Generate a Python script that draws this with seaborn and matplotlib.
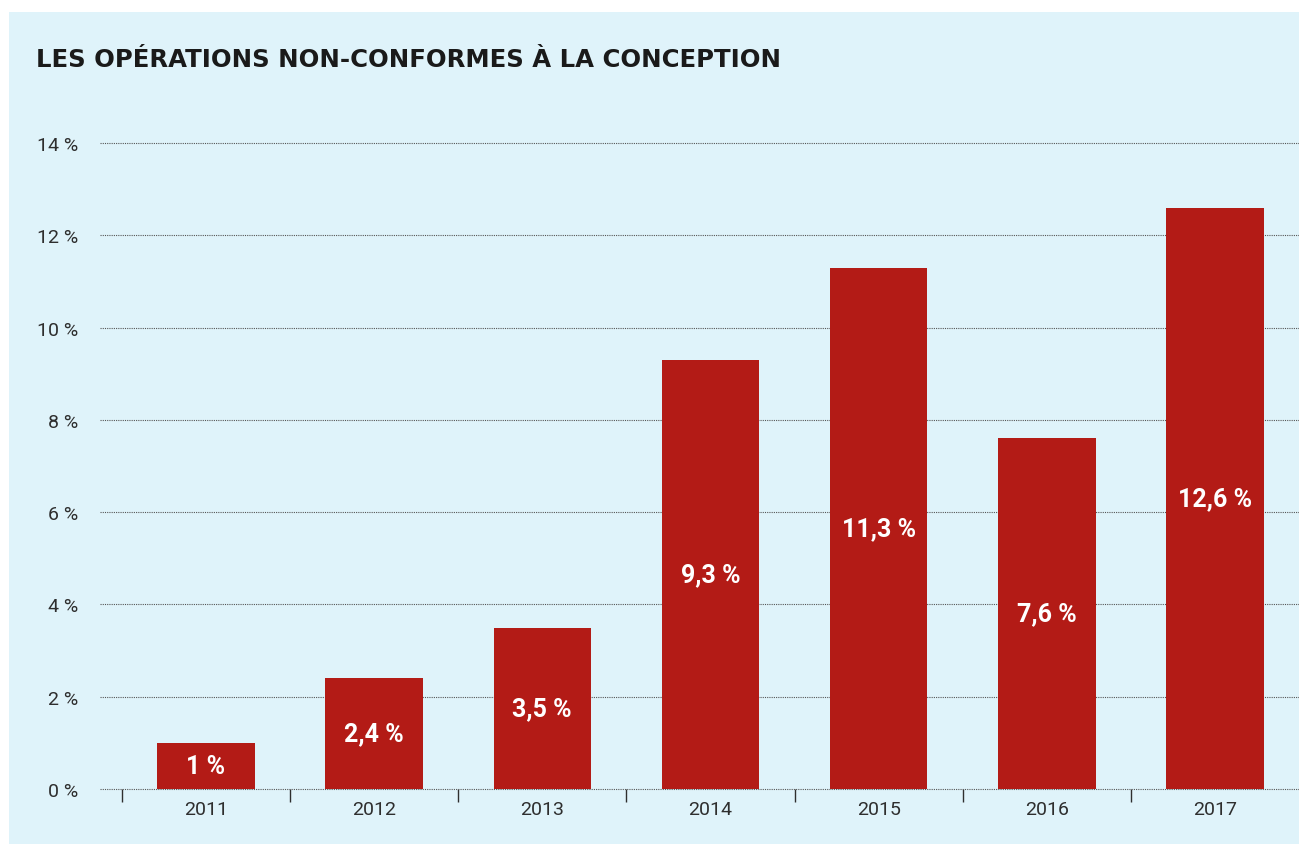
import matplotlib
matplotlib.use("Agg")
import matplotlib.pyplot as plt
import matplotlib.patches as mpatches
import seaborn as sns
import pandas as pd

# donnees
annees = ["2011", "2012", "2013", "2014", "2015", "2016", "2017"]
taux = [1.0, 2.4, 3.5, 9.3, 11.3, 7.6, 12.6]
etiquettes = ["1 %", "2,4 %", "3,5 %", "9,3 %", "11,3 %", "7,6 %", "12,6 %"]
graduations_y = [0, 2, 4, 6, 8, 10, 12, 14]

fond = "#dff3fa"
rouge = "#b31b16"
texte = "#2e2e2e"

sns.set_style("white")
plt.rcParams['font.family'] = ['Roboto', 'DejaVu Sans']

df = pd.DataFrame({"annee": annees, "taux": taux})

fig = plt.figure(figsize=(12.99, 8.45), dpi=100)
fig.patch.set_facecolor("white")
# panneau bleu clair derriere tout
fond_rect = mpatches.Rectangle((9 / 1299, 0), 1 - 9 / 1299, 1 - 13 / 845,
                               transform=fig.transFigure, facecolor=fond,
                               edgecolor="none", zorder=-10)
fig.add_artist(fond_rect)

ax = fig.add_axes([100 / 1299, 55 / 845, 1 - 100 / 1299, (790 - 144) / 845])
ax.set_facecolor("none")

sns.barplot(data=df, x="annee", y="taux", color=rouge, width=0.58,
            saturation=1, linewidth=0, ax=ax, zorder=3)

# etiquettes dans les barres
for i, (v, lab) in enumerate(zip(taux, etiquettes)):
    ax.text(i, v / 2, lab, ha="center", va="center", color="white",
            fontsize=18, fontweight="bold", zorder=4)

ax.set_ylim(0, 14)
ax.set_xlim(-0.63, 6.5)
ax.set_yticks(graduations_y)
ax.set_yticklabels([f"{g} %" for g in graduations_y])
ax.tick_params(axis="y", length=0, pad=16, labelsize=14, labelcolor=texte)
ax.tick_params(axis="x", which="major", length=0, pad=8, labelsize=14, labelcolor=texte)
ax.set_xticks([i - 0.5 for i in range(len(annees))], minor=True)
ax.tick_params(axis="x", which="minor", bottom=True, length=9, width=1,
               color=texte, direction="out")

ax.yaxis.grid(True, linestyle=(0, (1, 1)), color="#555555", linewidth=0.8, zorder=1)
for g in ax.get_ygridlines():
    g.set_clip_on(False)
ax.set_axisbelow(True)
for s in ax.spines.values():
    s.set_visible(False)
ax.set_xlabel("")
ax.set_ylabel("")

fig.text(36 / 1299, 1 - 60 / 845, "LES OPÉRATIONS NON-CONFORMES À LA CONCEPTION",
         fontsize=17.6, fontweight="bold", color="#1a1a1a", va="center", ha="left",
         family=["DejaVu Sans"])

fig.savefig("out.png", dpi=100)
